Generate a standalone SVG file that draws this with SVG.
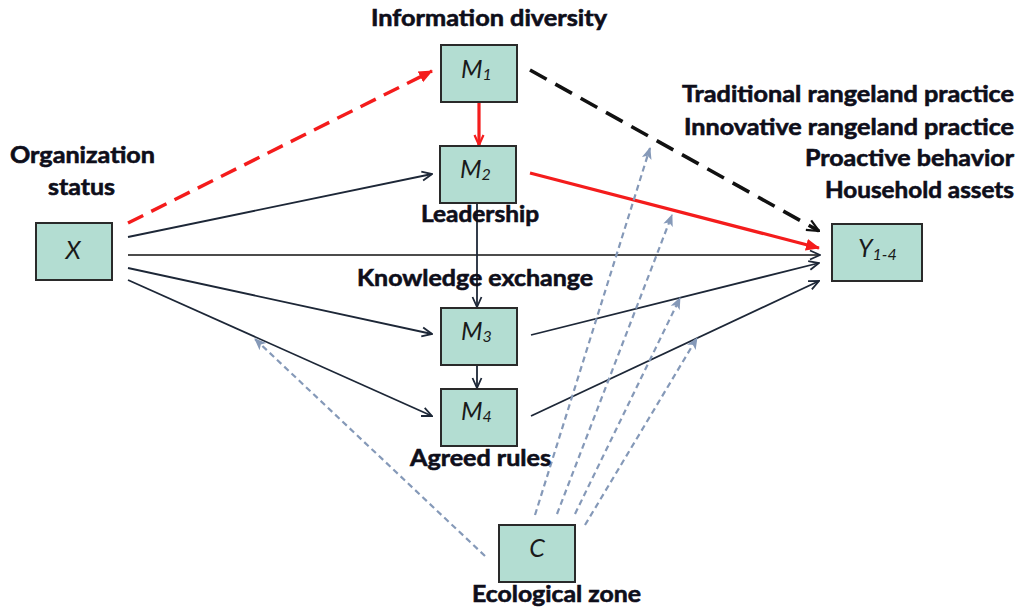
<svg xmlns="http://www.w3.org/2000/svg" width="1021" height="611" viewBox="0 0 1021 611">
<style>
.box{fill:#b3ddd2;stroke:#2a2a2a;stroke-width:2}
.cap{font-family:Lato,"Liberation Sans",sans-serif;font-weight:bold;font-size:23px;fill:#0e0e1a;stroke:#0e0e1a;stroke-width:0.6}
.lab{font-family:Lato,"Liberation Sans",sans-serif;font-style:italic;font-size:25px;fill:#1a1a1a}
.sub{font-size:16px}
.dark{stroke:#1d2737;stroke-width:1.8;fill:none}
.blk{stroke:#111;stroke-width:1.6;fill:none}
.red{stroke:#f41c1c;stroke-width:3.2;fill:none}
.redd{stroke:#f41c1c;stroke-width:3.4;fill:none;stroke-dasharray:17 9}
.blkd{stroke:#111;stroke-width:3.6;fill:none;stroke-dasharray:19 10}
.gry{stroke:#8599b8;stroke-width:2.2;fill:none;stroke-dasharray:6 4}
</style>
<defs>
<marker id="aDark" viewBox="0 0 12 12" refX="11" refY="6" markerWidth="12" markerHeight="12" markerUnits="userSpaceOnUse" orient="auto">
<path d="M1,1.5 L11,6 L1,10.5" fill="none" stroke="#1d2737" stroke-width="1.8"/>
</marker>
<marker id="aBlk" viewBox="0 0 14 14" refX="13" refY="7" markerWidth="14" markerHeight="14" markerUnits="userSpaceOnUse" orient="auto">
<path d="M1,1.5 L13,7 L1,12.5" fill="none" stroke="#111" stroke-width="2.2"/>
</marker>
<marker id="aRed" viewBox="0 0 14 14" refX="13" refY="7" markerWidth="14" markerHeight="14" markerUnits="userSpaceOnUse" orient="auto">
<path d="M0,1 L14,7 L0,13 Z" fill="#f41c1c"/>
</marker>
<marker id="aRedV" viewBox="0 0 12 12" refX="11" refY="6" markerWidth="12" markerHeight="12" markerUnits="userSpaceOnUse" orient="auto">
<path d="M1,1.5 L11,6 L1,10.5" fill="none" stroke="#f41c1c" stroke-width="2.2"/>
</marker>
<marker id="aGry" viewBox="0 0 12 12" refX="11" refY="6" markerWidth="12" markerHeight="12" markerUnits="userSpaceOnUse" orient="auto">
<path d="M0,1 L12,6 L0,11 L3,6 Z" fill="#8599b8"/>
</marker>
</defs>
<rect width="1021" height="611" fill="#fff"/>
<g id="connectors">
<line class="redd" x1="128" y1="223" x2="432" y2="71" marker-end="url(#aRed)"/>
<line class="dark" x1="128" y1="237" x2="432" y2="174" marker-end="url(#aDark)"/>
<line class="blk" x1="128" y1="255" x2="820" y2="255" marker-end="url(#aDark)"/>
<line class="dark" x1="128" y1="268" x2="432" y2="334" marker-end="url(#aDark)"/>
<line class="dark" x1="128" y1="280" x2="432" y2="416" marker-end="url(#aDark)"/>
<line class="red" x1="479" y1="102" x2="479" y2="145" stroke-width="2.4" marker-end="url(#aRedV)"/>
<line class="dark" x1="477" y1="203" x2="477" y2="307" marker-end="url(#aDark)"/>
<line class="dark" x1="477" y1="365" x2="477" y2="388" marker-end="url(#aDark)"/>
<line class="blkd" x1="530" y1="70" x2="819" y2="231" marker-end="url(#aBlk)"/>
<line class="red" x1="530" y1="173" x2="819" y2="248" marker-end="url(#aRed)"/>
<line class="dark" x1="531" y1="335" x2="819" y2="263" marker-end="url(#aDark)"/>
<line class="dark" x1="531" y1="416" x2="819" y2="281" marker-end="url(#aDark)"/>
<line class="gry" x1="485" y1="556" x2="255" y2="339" marker-end="url(#aGry)"/>
<line class="gry" x1="535" y1="515" x2="650" y2="148" marker-end="url(#aGry)"/>
<line class="gry" x1="557" y1="514" x2="672" y2="215" marker-end="url(#aGry)"/>
<line class="gry" x1="575" y1="514" x2="680" y2="298" marker-end="url(#aGry)"/>
<line class="gry" x1="585" y1="525" x2="697" y2="338" marker-end="url(#aGry)"/>
</g>
<g id="node-M1">
<rect class="box" x="441" y="45" width="76" height="57"/>
<text class="lab" x="461" y="78">M<tspan class="sub" dy="2">1</tspan></text>
<text class="cap" x="371" y="26" textLength="236" lengthAdjust="spacingAndGlyphs">Information diversity</text>
</g>
<g id="node-M2">
<rect class="box" x="440" y="146" width="76" height="57"/>
<text class="lab" x="460" y="178">M<tspan class="sub" dy="2">2</tspan></text>
<text class="cap" x="421" y="222" textLength="118" lengthAdjust="spacingAndGlyphs">Leadership</text>
</g>
<g id="node-X">
<rect class="box" x="36" y="223" width="76" height="57"/>
<text class="lab" x="73" y="259" text-anchor="middle">X</text>
<text class="cap" x="10" y="163" textLength="145" lengthAdjust="spacingAndGlyphs">Organization</text>
<text class="cap" x="48" y="195" textLength="67" lengthAdjust="spacingAndGlyphs">status</text>
</g>
<g id="node-M3">
<rect class="box" x="441" y="308" width="76" height="57"/>
<text class="lab" x="461" y="340">M<tspan class="sub" dy="2">3</tspan></text>
<text class="cap" x="357" y="286" textLength="236" lengthAdjust="spacingAndGlyphs">Knowledge exchange</text>
</g>
<g id="node-M4">
<rect class="box" x="441" y="389" width="76" height="57"/>
<text class="lab" x="461" y="420">M<tspan class="sub" dy="2">4</tspan></text>
<text class="cap" x="410" y="466" textLength="141" lengthAdjust="spacingAndGlyphs">Agreed rules</text>
</g>
<g id="node-C">
<rect class="box" x="499" y="525" width="76" height="57"/>
<text class="lab" x="537" y="557" text-anchor="middle">C</text>
<text class="cap" x="472" y="602" textLength="169" lengthAdjust="spacingAndGlyphs">Ecological zone</text>
</g>
<g id="node-Y">
<rect class="box" x="832" y="224" width="90" height="57"/>
<text class="lab" x="858" y="257">Y<tspan class="sub" dy="3">1-4</tspan></text>
<text class="cap" x="682" y="102" textLength="332" lengthAdjust="spacingAndGlyphs">Traditional rangeland practice</text>
<text class="cap" x="684" y="135" textLength="330" lengthAdjust="spacingAndGlyphs">Innovative rangeland practice</text>
<text class="cap" x="805" y="166" textLength="209" lengthAdjust="spacingAndGlyphs">Proactive behavior</text>
<text class="cap" x="825" y="198" textLength="189" lengthAdjust="spacingAndGlyphs">Household assets</text>
</g>
</svg>
